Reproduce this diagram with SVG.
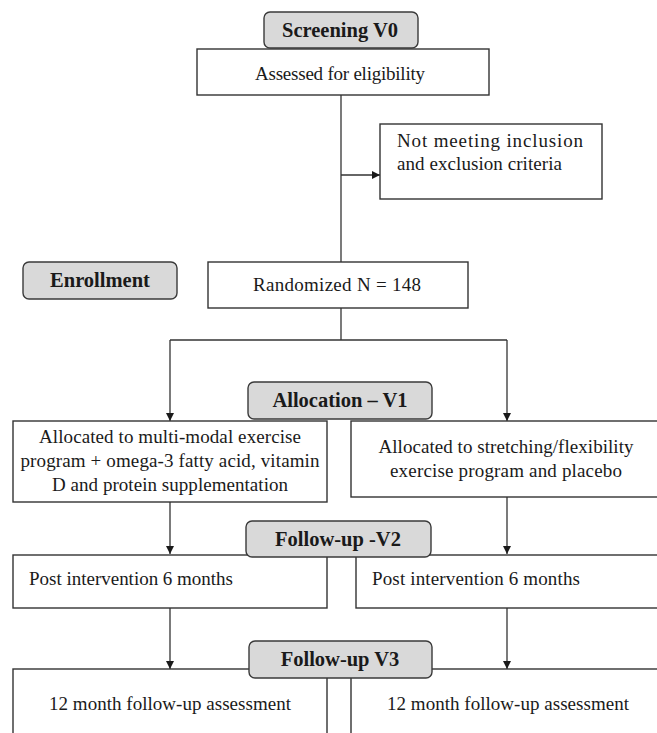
<svg xmlns="http://www.w3.org/2000/svg" width="657" height="733" viewBox="0 0 657 733">
<style>
.box{fill:#fff;stroke:#333;stroke-width:1.4}
.pill{fill:#d9d9d9;stroke:#3a3a3a;stroke-width:1.4}
.t{font-family:"Liberation Serif","Times New Roman",serif;font-size:19px;fill:#1a1a1a}
.b{font-family:"Liberation Serif","Times New Roman",serif;font-size:20.5px;font-weight:bold;fill:#1a1a1a;text-anchor:middle}
.c{text-anchor:middle}
.ln{stroke:#333;stroke-width:1.3;fill:none}
</style>
<defs>
<marker id="ah" markerWidth="8" markerHeight="10" refX="8" refY="5" orient="auto" markerUnits="userSpaceOnUse">
<path d="M0,1 L8,5 L0,9 Z" fill="#1a1a1a"/>
</marker>
</defs>
<rect width="657" height="733" fill="#fff"/>
<g id="connectors">
<line class="ln" x1="341" y1="95" x2="341" y2="262"/>
<line class="ln" x1="341" y1="175" x2="380" y2="175" marker-end="url(#ah)"/>
<line class="ln" x1="341" y1="308" x2="341" y2="340"/>
<line class="ln" x1="170" y1="340" x2="507" y2="340"/>
<line class="ln" x1="170" y1="340" x2="170" y2="421" marker-end="url(#ah)"/>
<line class="ln" x1="507" y1="340" x2="507" y2="421" marker-end="url(#ah)"/>
<line class="ln" x1="170" y1="502" x2="170" y2="554" marker-end="url(#ah)"/>
<line class="ln" x1="507" y1="497" x2="507" y2="554" marker-end="url(#ah)"/>
<line class="ln" x1="170" y1="608" x2="170" y2="669" marker-end="url(#ah)"/>
<line class="ln" x1="507" y1="608" x2="507" y2="669" marker-end="url(#ah)"/>
</g>
<g id="assessed">
<rect class="box" x="197" y="49" width="292" height="46"/>
<text class="t c" x="340" y="80" textLength="170" lengthAdjust="spacing">Assessed for eligibility</text>
</g>
<g id="screening">
<rect class="pill" x="264" y="12" width="154" height="36" rx="6"/>
<text class="b" x="340" y="37">Screening V0</text>
</g>
<g id="not-meeting">
<rect class="box" x="380" y="124" width="222" height="75"/>
<text class="t" x="397" y="147" textLength="186" lengthAdjust="spacing">Not meeting  inclusion</text>
<text class="t" x="397" y="170" textLength="165" lengthAdjust="spacing">and exclusion  criteria</text>
</g>
<g id="enrollment">
<rect class="pill" x="23" y="262" width="154" height="37" rx="6"/>
<text class="b" x="100" y="287">Enrollment</text>
</g>
<g id="randomized">
<rect class="box" x="208" y="262" width="260" height="46"/>
<text class="t c" x="337" y="291" textLength="168" lengthAdjust="spacing">Randomized  N = 148</text>
</g>
<g id="alloc-left">
<rect class="box" x="13" y="421" width="314" height="81"/>
<text class="t c" x="170" y="443" textLength="262" lengthAdjust="spacing">Allocated to multi-modal exercise</text>
<text class="t c" x="170" y="467" textLength="299" lengthAdjust="spacing">program + omega-3 fatty acid, vitamin</text>
<text class="t c" x="170" y="491" textLength="236" lengthAdjust="spacing">D and protein supplementation</text>
</g>
<g id="alloc-right">
<rect class="box" x="351" y="421" width="310" height="76"/>
<text class="t c" x="506" y="453" textLength="255" lengthAdjust="spacing">Allocated to stretching/flexibility</text>
<text class="t c" x="506" y="477" textLength="232" lengthAdjust="spacing">exercise program and placebo</text>
</g>
<g id="allocation">
<rect class="pill" x="248" y="382" width="184" height="37" rx="6"/>
<text class="b" x="340" y="407">Allocation – V1</text>
</g>
<g id="post-left">
<rect class="box" x="13" y="555" width="314" height="53"/>
<text class="t" x="29" y="585" textLength="204" lengthAdjust="spacing">Post intervention  6 months</text>
</g>
<g id="post-right">
<rect class="box" x="356" y="555" width="305" height="53"/>
<text class="t" x="372" y="585" textLength="208" lengthAdjust="spacing">Post intervention   6 months</text>
</g>
<g id="followup-v2">
<rect class="pill" x="246" y="521" width="185" height="36" rx="6"/>
<text class="b" x="338" y="546">Follow-up -V2</text>
</g>
<g id="month12-left">
<rect class="box" x="13" y="669" width="314" height="80"/>
<text class="t" x="49" y="710" textLength="242" lengthAdjust="spacing">12 month  follow-up  assessment</text>
</g>
<g id="month12-right">
<rect class="box" x="351" y="669" width="310" height="80"/>
<text class="t" x="387" y="710" textLength="242" lengthAdjust="spacing">12 month  follow-up  assessment</text>
</g>
<g id="followup-v3">
<rect class="pill" x="249" y="641" width="183" height="37" rx="6"/>
<text class="b" x="340" y="666">Follow-up V3</text>
</g>
</svg>
